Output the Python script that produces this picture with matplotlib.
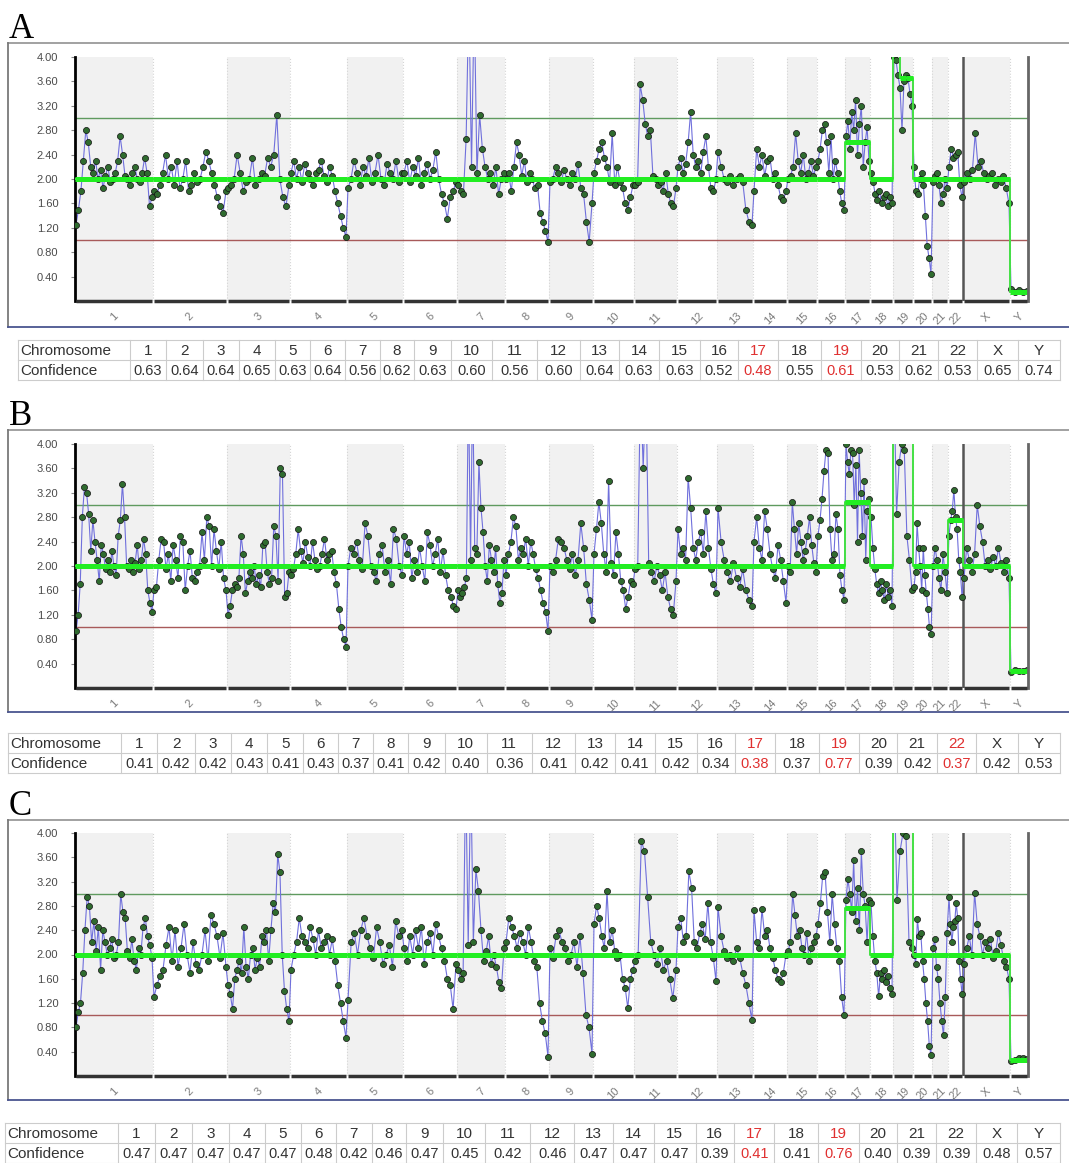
import numpy as np
import matplotlib
matplotlib.use("Agg")
import matplotlib.pyplot as plt

W, H = 1069, 1163

chrom_names = [str(i) for i in range(1, 23)] + ["X", "Y"]
# width of each chromosome on the genome axis (probe-scaled)
chrom_width = [78, 74, 63, 57, 56, 54, 48, 44, 44, 41, 43, 40,
               36, 34, 30, 28, 25, 23, 20, 19, 16, 15, 47, 18]

# copy number per probe, one list per chromosome
copy_a = [
    [1.25, 1.5, 1.8, 2.3, 2.8, 2.6, 2.2, 2.1, 2.3, 2.0, 2.15, 1.85, 2.05, 2.2, 1.95, 2.0, 2.1,
     2.3, 2.7, 2.4, 2.05, 2.0, 1.9, 2.1, 2.2, 2.0, 1.95, 2.1, 2.35, 2.1, 1.55, 1.7],
    [1.8, 1.75, 1.9, 2.1, 2.4, 2.0, 2.2, 1.9, 2.3, 1.85, 2.0, 2.3, 1.8, 1.9, 2.1, 1.95, 2.0,
     2.2, 2.45, 2.3, 2.1, 1.9, 1.7, 1.55, 1.45, 1.8],
    [1.85, 1.9, 2.0, 2.4, 2.1, 1.8, 1.95, 2.0, 2.35, 1.9, 2.0, 2.1, 2.05, 2.35, 2.2, 2.4,
     3.05, 2.0, 1.7, 1.55, 1.9],
    [2.1, 2.3, 2.0, 2.2, 1.95, 2.25, 2.1, 2.0, 1.9, 2.1, 2.15, 2.3, 2.05, 1.95, 2.2, 2.05,
     1.8, 1.6, 1.4, 1.2, 1.05],
    [1.85, 2.0, 2.3, 2.1, 1.9, 2.2, 2.05, 2.35, 1.95, 2.1, 2.4, 2.0, 1.9, 2.25, 2.1, 2.0,
     2.3, 1.95, 2.1],
    [2.1, 2.3, 1.95, 2.2, 2.05, 2.35, 1.9, 2.1, 2.25, 2.0, 2.15, 2.45, 2.0, 1.75, 1.6, 1.35,
     1.7, 1.8, 1.95],
    [1.9, 1.8, 1.75, 2.65, 5.0, 2.2, 5.0, 2.1, 3.05, 2.5, 2.2, 2.0, 2.1, 1.9, 2.2, 1.75,
     2.0, 2.1],
    [2.0, 2.1, 1.8, 2.2, 2.6, 2.4, 2.05, 2.3, 1.95, 2.1, 2.0, 1.85, 1.9, 1.45, 1.3, 1.15, 0.97],
    [1.95, 2.0, 2.2, 2.1, 1.95, 2.15, 2.0, 1.9, 2.1, 2.0, 2.25, 1.85, 1.75, 1.3, 0.97, 1.6],
    [2.1, 2.3, 2.5, 2.6, 2.35, 2.2, 1.95, 2.75, 1.9, 2.2, 1.95, 1.85, 1.6, 1.5, 1.7, 1.9],
    [1.9, 1.95, 3.55, 3.3, 2.9, 2.7, 2.8, 2.05, 2.0, 1.9, 1.95, 1.8, 2.1, 1.75, 1.6, 1.55, 1.85],
    [2.2, 2.35, 2.1, 2.25, 2.6, 3.1, 2.4, 2.2, 2.3, 2.1, 2.45, 2.7, 2.2, 1.85, 1.8, 2.0],
    [2.45, 2.2, 2.0, 1.95, 2.05, 1.9, 2.0, 2.05, 1.95, 1.5, 1.3, 1.25],
    [1.8, 2.5, 2.2, 2.4, 2.05, 2.3, 2.35, 2.0, 2.1, 1.9, 1.7, 1.65, 1.8],
    [2.0, 2.05, 2.2, 2.75, 2.3, 2.1, 2.4, 2.0, 2.1, 2.3, 2.05, 2.2],
    [2.3, 2.5, 2.8, 2.9, 2.6, 2.1, 2.7, 2.0, 2.3, 2.1, 1.8, 1.6, 1.5],
    [2.7, 2.95, 2.5, 3.1, 2.8, 3.3, 2.4, 2.9, 3.2, 2.2, 2.6, 2.85, 2.3],
    [2.1, 1.95, 1.75, 1.65, 1.8, 1.6, 1.7, 1.75, 1.55, 1.7, 1.6],
    [4.0, 3.95, 3.7, 3.5, 2.8, 3.6, 3.7, 3.65, 3.4, 3.2],
    [2.2, 1.8, 1.75, 2.0, 2.1, 1.9, 1.4, 0.9, 0.7, 0.45],
    [1.95, 2.05, 2.1, 1.9, 1.6, 1.75, 2.0, 1.85],
    [2.2, 2.5, 2.35, 2.4, 2.45, 1.9, 1.7],
    [1.95, 2.1, 2.0, 2.15, 2.75, 2.2, 2.3, 2.1, 2.0, 2.05, 2.1, 1.9, 2.0, 1.95, 2.05, 1.85, 1.6],
    [0.2, 0.15, 0.18, 0.15, 0.16],
]

copy_b = [
    [0.93, 1.2, 1.7, 2.8, 3.3, 3.2, 2.85, 2.25, 2.75, 2.4, 2.1, 1.75, 2.35, 2.2, 1.95, 2.1,
     1.9, 2.25, 2.0, 1.85, 2.5, 2.75, 3.35, 2.8, 2.0, 1.95, 2.1, 1.9, 2.05, 2.35, 1.95, 2.1,
     2.45, 2.2, 1.6, 1.4, 1.25],
    [1.6, 1.65, 2.1, 2.45, 2.4, 1.95, 2.2, 1.75, 2.35, 2.1, 1.8, 2.5, 2.4, 1.6, 2.0, 2.25,
     1.8, 1.75, 1.9, 2.0, 2.55, 2.1, 2.8, 2.65, 2.0, 2.6, 2.25, 1.95, 2.4, 1.8, 1.6],
    [1.2, 1.35, 1.6, 1.7, 1.65, 1.8, 2.5, 2.2, 1.55, 1.75, 1.9, 1.8, 2.0, 1.7, 1.85, 1.65,
     2.35, 2.4, 1.9, 1.7, 1.8, 2.65, 2.5, 1.75, 3.6, 3.5, 1.5, 1.55, 1.9],
    [1.85, 1.95, 2.2, 2.6, 2.25, 2.05, 2.4, 2.15, 2.0, 2.4, 2.1, 1.95, 2.0, 2.2, 2.45, 2.1,
     2.2, 2.25, 1.9, 1.7, 1.3, 1.0, 0.8, 0.68],
    [2.0, 2.3, 2.2, 2.4, 2.1, 1.95, 2.7, 2.5, 2.0, 1.9, 1.75, 2.2, 2.35, 1.9, 2.1, 1.7, 2.6,
     2.45, 2.0, 1.85],
    [2.5, 2.2, 2.4, 1.8, 2.1, 1.9, 2.3, 2.0, 1.75, 2.55, 2.35, 2.0, 2.2, 2.45, 1.9, 2.25,
     1.85, 1.6, 1.5, 1.35, 1.3],
    [1.6, 1.5, 1.55, 1.65, 1.8, 5.0, 2.1, 5.0, 2.3, 2.2, 3.7, 2.95, 2.55, 2.0, 1.75, 2.35,
     2.1, 1.9, 2.3, 1.7, 1.4, 1.55, 2.1],
    [1.85, 2.2, 2.4, 2.8, 2.65, 2.1, 2.3, 2.2, 2.45, 2.0, 2.4, 2.2, 1.95, 1.8, 1.6, 1.4,
     1.25, 0.93],
    [2.0, 1.9, 2.1, 2.45, 2.4, 2.3, 2.1, 1.95, 2.2, 1.85, 2.1, 2.7, 2.3, 1.7, 1.45, 1.12],
    [2.2, 2.6, 3.05, 2.7, 2.2, 1.9, 3.4, 2.05, 1.85, 2.55, 2.2, 1.75, 1.6, 1.3, 1.5, 1.75, 1.7],
    [1.95, 2.0, 5.0, 3.6, 5.0, 2.05, 1.9, 1.75, 2.0, 1.85, 1.6, 1.9, 1.5, 1.3, 1.2, 1.75],
    [2.6, 2.2, 2.3, 2.1, 3.45, 2.95, 2.3, 2.1, 2.4, 2.55, 2.2, 2.9, 2.3, 1.95, 1.7, 1.55],
    [2.95, 2.4, 2.1, 1.9, 1.75, 2.05, 1.8, 1.65, 1.95, 1.6, 1.45, 1.35],
    [2.4, 2.8, 2.3, 2.1, 2.9, 2.6, 2.2, 1.95, 1.8, 2.35, 2.1, 1.75, 1.4],
    [2.0, 1.9, 3.05, 2.6, 2.2, 2.7, 2.4, 2.1, 2.25, 2.5, 2.8, 2.35, 2.05, 1.9],
    [2.5, 2.75, 3.1, 3.55, 3.9, 3.85, 2.6, 2.1, 2.2, 2.85, 2.6, 1.85, 1.6, 1.45],
    [4.0, 3.7, 3.5, 3.9, 3.85, 3.0, 3.65, 2.4, 3.9, 3.2, 2.5, 3.4, 2.1, 2.9, 3.1],
    [2.8, 2.3, 1.95, 1.7, 1.55, 1.75, 1.6, 1.45, 1.7, 1.5, 1.6, 1.35],
    [5.0, 2.85, 3.7, 4.0, 3.9, 2.5, 2.1, 1.6],
    [1.65, 1.9, 2.7, 2.3, 2.0, 1.6, 2.3, 1.85, 1.55, 1.3, 1.0, 0.88],
    [2.0, 2.3, 2.1, 1.8, 1.6, 2.2, 1.9, 1.55],
    [2.5, 2.75, 2.9, 3.25, 2.8, 2.6, 2.1, 1.9, 1.5],
    [1.8, 2.3, 2.1, 1.9, 2.2, 3.0, 2.65, 2.4, 2.0, 2.1, 1.95, 2.15, 2.0, 2.3, 2.05, 1.9,
     2.1, 1.8],
    [0.27, 0.3, 0.28, 0.28, 0.29],
]

copy_c = [
    [0.8, 1.05, 1.2, 1.7, 2.4, 2.95, 2.8, 2.2, 2.55, 2.05, 2.45, 1.75, 2.4, 2.2, 2.0, 2.1,
     2.25, 1.95, 2.0, 2.2, 3.0, 2.7, 2.6, 2.05, 1.95, 2.25, 1.9, 1.75, 2.1, 2.0, 2.45, 2.6,
     2.3, 2.15, 1.95],
    [1.3, 1.5, 1.65, 1.75, 2.15, 2.45, 1.9, 2.4, 1.8, 2.1, 2.5, 2.0, 1.7, 2.2, 1.85, 1.75,
     2.0, 2.4, 1.9, 2.65, 2.5, 2.3, 1.95, 2.35, 1.8],
    [1.5, 1.35, 1.1, 1.6, 1.75, 1.9, 1.7, 2.45, 1.8, 1.6, 2.0, 2.1, 1.75, 1.95, 1.8, 2.3,
     2.2, 2.4, 1.9, 2.4, 2.85, 2.7, 3.65, 3.35, 2.0, 1.4, 1.1, 0.9],
    [1.75, 2.0, 2.2, 2.6, 2.3, 2.2, 2.1, 2.45, 2.25, 2.0, 2.4, 2.1, 2.2, 2.3, 2.0, 2.25,
     1.9, 1.5, 1.2, 0.9, 0.63],
    [1.25, 2.2, 2.35, 2.0, 2.4, 2.6, 2.3, 2.1, 1.95, 2.45, 2.2, 1.85, 2.0, 2.15, 1.8, 2.55,
     2.3, 2.4],
    [2.1, 1.9, 2.3, 2.0, 2.4, 2.1, 2.45, 1.85, 2.2, 2.35, 2.0, 2.5, 2.3, 2.1, 1.9, 1.6, 1.5,
     1.1, 1.85],
    [1.75, 1.6, 1.7, 5.0, 2.15, 5.0, 2.2, 3.4, 3.05, 2.4, 1.9, 2.05, 2.3, 1.85, 2.0, 1.8,
     1.55, 1.45, 2.1],
    [2.2, 2.6, 2.45, 2.3, 2.1, 2.35, 2.2, 2.0, 2.45, 2.2, 1.9, 1.8, 1.2, 0.9, 0.7, 0.32],
    [2.1, 1.95, 2.3, 2.4, 2.2, 2.1, 1.9, 2.0, 2.2, 1.8, 2.3, 1.7, 1.0, 0.8, 0.37],
    [2.5, 2.8, 2.6, 2.3, 2.1, 3.05, 2.2, 2.4, 2.05, 1.95, 2.0, 1.6, 1.45, 1.12, 1.6, 1.75],
    [1.9, 2.0, 3.87, 3.7, 2.95, 2.2, 2.0, 1.85, 2.1, 1.75, 1.9, 1.6, 1.28, 1.75],
    [2.45, 2.6, 2.2, 2.3, 3.37, 3.1, 2.2, 2.1, 2.35, 2.5, 2.25, 2.85, 2.2, 1.95, 1.56],
    [2.78, 2.3, 2.05, 1.95, 2.0, 1.9, 2.1, 1.95, 1.7, 1.5, 1.2, 0.92],
    [2.73, 2.2, 2.1, 2.75, 2.3, 2.4, 2.1, 1.95, 1.75, 1.6, 1.55, 1.7, 2.0],
    [2.05, 2.2, 3.0, 2.65, 2.3, 2.4, 2.1, 2.0, 2.35, 1.9, 2.1, 2.2, 2.3],
    [2.5, 2.85, 3.3, 3.35, 2.7, 2.2, 3.0, 2.5, 2.1, 1.9, 1.3, 1.0],
    [2.9, 3.25, 3.0, 2.7, 3.55, 2.55, 3.1, 2.4, 3.7, 3.0, 2.8, 2.2, 2.9],
    [2.85, 2.3, 1.9, 1.7, 1.31, 1.7, 1.6, 1.75, 1.55, 1.65, 1.45, 1.35],
    [5.0, 2.9, 3.7, 4.0, 3.95, 2.2, 2.1],
    [2.0, 1.85, 2.58, 2.3, 2.35, 1.9, 1.6, 1.2, 0.9, 0.5, 0.34],
    [2.1, 2.25, 1.8, 1.6, 1.2, 0.9, 0.67, 1.3, 2.35],
    [2.94, 2.5, 2.2, 2.45, 2.55, 2.85, 2.6, 1.9, 1.6, 1.35],
    [1.85, 2.1, 2.3, 2.0, 3.02, 2.5, 2.3, 2.0, 2.2, 2.1, 2.25, 1.95, 2.05, 2.35, 2.15, 1.9,
     1.8, 1.6],
    [0.25, 0.27, 0.3, 0.3, 0.28],
]

# segmented copy number level per chromosome (a tuple splits a chromosome evenly)
seg_a = [2.0] * 16 + [2.6, 2.0, (4.6, 3.65, 3.65), 2.0, 2.0, 2.0, 2.0, 0.15]
seg_b = [2.0] * 16 + [3.05, 2.0, 4.6, 2.0, 2.0, 2.75, 2.0, 0.28]
seg_c = [2.0] * 16 + [2.77, 2.0, 4.6, 2.0, 2.0, 2.0, 2.0, 0.27]

# confidence table
conf_a = ["0.63", "0.64", "0.64", "0.65", "0.63", "0.64", "0.56", "0.62", "0.63", "0.60", "0.56", "0.60",
          "0.64", "0.63", "0.63", "0.52", "0.48", "0.55", "0.61", "0.53", "0.62", "0.53", "0.65", "0.74"]
conf_b = ["0.41", "0.42", "0.42", "0.43", "0.41", "0.43", "0.37", "0.41", "0.42", "0.40", "0.36", "0.41",
          "0.42", "0.41", "0.42", "0.34", "0.38", "0.37", "0.77", "0.39", "0.42", "0.37", "0.42", "0.53"]
conf_c = ["0.47", "0.47", "0.47", "0.47", "0.47", "0.48", "0.42", "0.46", "0.47", "0.45", "0.42", "0.46",
          "0.47", "0.47", "0.47", "0.39", "0.41", "0.41", "0.76", "0.40", "0.39", "0.39", "0.48", "0.57"]
red_a = ["17", "19"]
red_b = ["17", "19", "22"]
red_c = ["17", "19"]

# table cell edges (px) for panel A table
col_edges = [130, 166, 203, 239, 275, 310, 345, 380, 414, 451, 492, 537, 580,
             619, 659, 700, 738, 778, 821, 861, 899, 938, 977, 1018, 1060]


def rect(x0, y0, x1, y1):
    return [x0 / W, 1 - y1 / H, (x1 - x0) / W, (y1 - y0) / H]


def draw_panel(ax, values, levels):
    ends = np.cumsum(chrom_width)
    starts = ends - np.array(chrom_width)
    total = ends[-1]
    for i in range(24):
        if i % 2 == 0:
            ax.axvspan(starts[i], ends[i], color="#f1f1f1", lw=0, zorder=0)
        ax.axvline(ends[i], color="#d5d5d5", ls=":", lw=0.8, zorder=0.5)
    ax.axhline(3.0, color="#5f9a5f", lw=1.0, zorder=1)
    ax.axhline(1.0, color="#a85a5a", lw=1.0, zorder=1)
    ax.axvline(ends[21], color="#555555", lw=1.8, zorder=1)

    xs = np.concatenate([np.linspace(starts[i] + 1, ends[i] - 1, len(v)) for i, v in enumerate(values)])
    ys = np.concatenate([np.array(v) for v in values])
    ax.plot(xs, ys, color="#7070dc", lw=0.8, zorder=2)
    ax.plot(xs, ys, "o", ms=4.4, mfc="#2f6b2f", mec="#111111", mew=0.5, zorder=3)

    # segment step line
    seg_x0, seg_x1, seg_y = [], [], []
    for i, lv in enumerate(levels):
        parts = lv if isinstance(lv, tuple) else (lv,)
        edges = np.linspace(starts[i], ends[i], len(parts) + 1)
        for k, p in enumerate(parts):
            seg_x0.append(edges[k])
            seg_x1.append(edges[k + 1])
            seg_y.append(p)
    sx = np.ravel(np.column_stack([seg_x0, seg_x1]))
    sy = np.repeat(seg_y, 2)
    ax.plot(sx, sy, color="#44e044", lw=1.4, zorder=4)
    ax.hlines(seg_y, seg_x0, seg_x1, color="#22ee22", lw=3.6, zorder=4)

    ax.set_xlim(0, total)
    ax.set_ylim(0, 4.0)
    for s in ["top", "right", "bottom"]:
        ax.spines[s].set_visible(False)
    ax.spines["left"].set_linewidth(2)
    ax.plot([total, total], [0, 4.0], color="#666666", lw=2, clip_on=False, zorder=5)
    ax.hlines(np.zeros(24), starts + 0.8, ends - 0.8, color="#333333", lw=2.5,
              clip_on=False, zorder=5)
    ticks = np.arange(0.4, 4.01, 0.4)
    ax.set_yticks(ticks)
    ax.set_yticklabels(["%.2f" % t for t in ticks])
    ax.tick_params(axis="y", length=3, width=0.8, color="#888888", pad=9,
                   labelsize=8, labelcolor="#4a4a4a")
    ax.set_xticks((starts + ends) / 2)
    ax.set_xticklabels(chrom_names, rotation=45, ha="center", va="top")
    ax.tick_params(axis="x", length=0, pad=7, labelsize=8, labelcolor="#7a7a7a")


def draw_table(bg, x_left, y_top, conf, reds):
    edges = x_left + (np.array(col_edges) - 18) * (1060 - x_left) / (1060 - 18)
    edges = np.concatenate([[x_left], edges])
    rh = 20
    for k in range(3):
        bg.plot([edges[0], edges[-1]], [y_top + k * rh, y_top + k * rh], color="#cccccc", lw=0.8)
    for e in edges:
        bg.plot([e, e], [y_top, y_top + 2 * rh], color="#cccccc", lw=0.8)
    bg.text(edges[0] + 2, y_top + rh / 2 + 1, "Chromosome", fontsize=11, color="#333333",
            ha="left", va="center")
    bg.text(edges[0] + 2, y_top + rh * 1.5 + 1, "Confidence", fontsize=11, color="#333333",
            ha="left", va="center")
    for i, name in enumerate(chrom_names):
        cx = (edges[i + 1] + edges[i + 2]) / 2
        col = "#e03030" if name in reds else "#333333"
        bg.text(cx, y_top + rh / 2 + 1, name, fontsize=11, color=col, ha="center", va="center")
        bg.text(cx, y_top + rh * 1.5 + 1, conf[i], fontsize=10.5, color=col, ha="center", va="center")


fig = plt.figure(figsize=(W / 100, H / 100), dpi=100)
plt.rcParams["font.family"] = ["Liberation Sans", "DejaVu Sans"]

bg = fig.add_axes([0, 0, 1, 1])
bg.set_xlim(0, W)
bg.set_ylim(H, 0)
bg.axis("off")

panels = [
    ("A", 43, 327, 57, 301, copy_a, seg_a, 18, 340, conf_a, red_a),
    ("B", 430, 712, 444, 688, copy_b, seg_b, 8, 733, conf_b, red_b),
    ("C", 820, 1100, 833, 1076, copy_c, seg_c, 5, 1123, conf_c, red_c),
]

for letter, box_top, box_bot, ax_top, ax_bot, vals, segs, tx, ty, conf, reds in panels:
    bg.text(9, box_top - 5, letter, fontsize=25, family="Liberation Serif", color="black",
            ha="left", va="baseline")
    bg.plot([8, W], [box_top, box_top], color="#9a9a9a", lw=1.3)
    bg.plot([8, 8], [box_top, box_bot], color="#7a7a7a", lw=1.3)
    bg.plot([8, W], [box_bot, box_bot], color="#4a5590", lw=1.3)
    ax = fig.add_axes(rect(75, ax_top, 1028, ax_bot))
    ax.patch.set_alpha(0)
    draw_panel(ax, vals, segs)
    draw_table(bg, tx, ty, conf, reds)

fig.savefig("out.png", dpi=100)
